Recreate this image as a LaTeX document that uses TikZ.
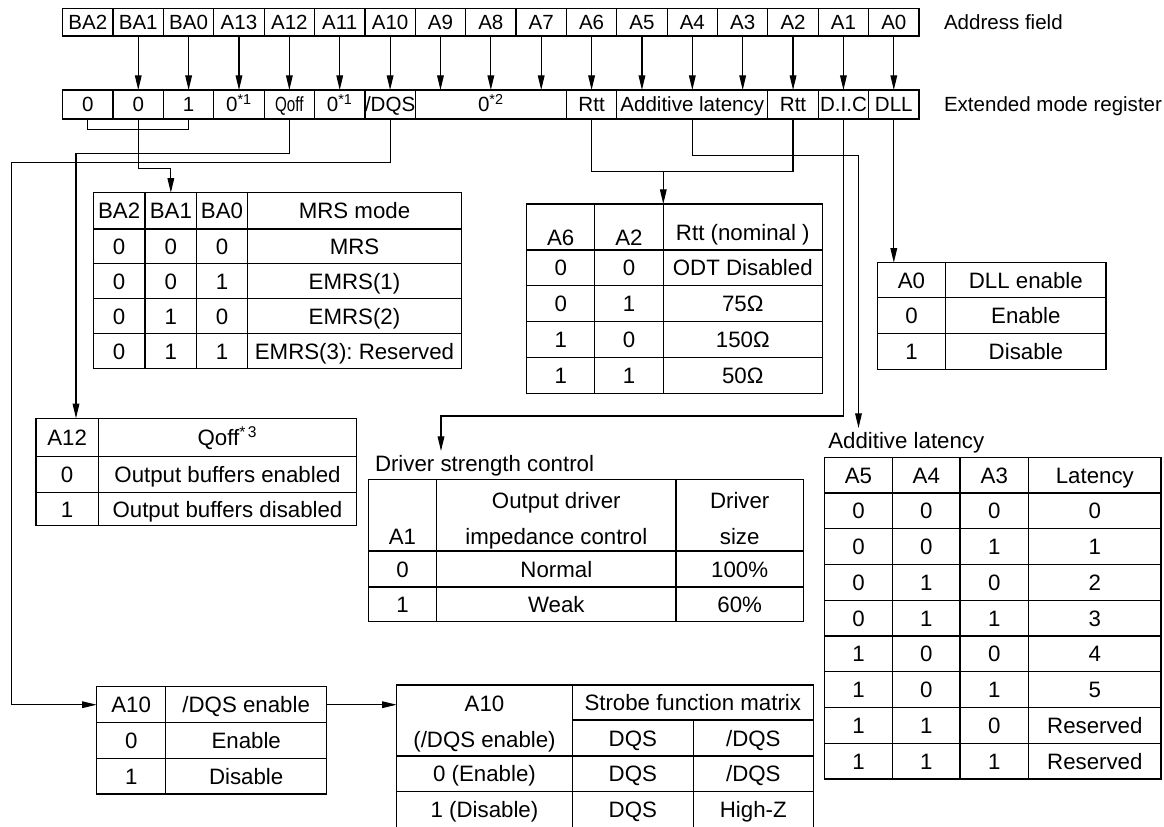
\documentclass[tikz,border=0pt]{standalone}
\usepackage{fontspec}
\setmainfont{Liberation Sans}
\usepackage{graphicx}
\usetikzlibrary{arrows.meta,calc}
\frenchspacing
\newcommand\tblfont{\fontsize{16.7}{20}\selectfont}
\newcommand\topfont{\fontsize{15.4}{18}\selectfont}
\tikzset{
  ln/.style={line width=0.9pt},
  arr/.style={ln,-{Triangle[length=11pt,width=5pt]}},
  cellbox/.style={draw,line width=0.9pt,inner sep=0pt,outer sep=0pt,font=\tblfont,text height=12pt,text depth=0pt,anchor=center},
  topcell/.style={font=\topfont,text height=11pt},
  txt/.style={inner sep=0pt,outer sep=0pt,font=\tblfont,text height=12pt,text depth=0pt},
  lbl/.style={inner sep=0pt,outer sep=0pt,font=\tblfont,text height=12pt,text depth=0pt,anchor=west},
}
\newcommand\cellnode[7][]{%
  \node[cellbox,#1,minimum width={(#5-#3)*0.75pt},minimum height={(#6-#4)*0.75pt}] (#2) at ({(#3+#5)/2},{(#4+#6)/2}) {#7};}
\begin{document}
\begin{tikzpicture}[x=0.75pt,y=-0.75pt]
\useasboundingbox (0,0) rectangle (1164,826);

% ---------- address field ----------
\foreach \t [count=\i from 0] in {BA2,BA1,BA0,A13,A12,A11,A10,A9,A8,A7,A6,A5,A4,A3,A2,A1,A0}{
  \pgfmathsetmacro\xl{62.7+50.37*\i}
  \pgfmathsetmacro\xr{62.7+50.37*(\i+1)}
  \cellnode[topcell]{a\i}{\xl}{8.3}{\xr}{36}{\t}
}
\node[lbl,font=\topfont,text height=11pt] (lAddr) at (944,22.5) {Address field};

% ---------- extended mode register ----------
\cellnode[topcell]{r1}{62.7}{90}{113.07}{119}{0}
\cellnode[topcell]{r2}{113.07}{90}{163.44}{119}{0}
\cellnode[topcell]{r3}{163.44}{90}{213.81}{119}{1}
\cellnode[topcell]{r4}{213.81}{90}{264.18}{119}{0\textsuperscript{*1}}
\cellnode[topcell]{r5}{264.18}{90}{314.55}{119}{\scalebox{0.74}[1]{Qoff}}
\cellnode[topcell]{r6}{314.55}{90}{364.92}{119}{0\textsuperscript{*1}}
\cellnode[topcell]{r7}{364.92}{90}{415.29}{119}{/DQS}
\cellnode[topcell]{r8}{415.29}{90}{566.4}{119}{0\textsuperscript{*2}}
\cellnode[topcell]{r9}{566.4}{90}{616.77}{119}{Rtt}
\cellnode[topcell]{r10}{616.77}{90}{767.88}{119}{Additive latency}
\cellnode[topcell]{r11}{767.88}{90}{818.25}{119}{Rtt}
\cellnode[topcell]{r12}{818.25}{90}{868.62}{119}{D.I.C}
\cellnode[topcell]{r13}{868.62}{90}{918.99}{119}{DLL}
\node[lbl,font=\topfont,text height=11pt] (lExt) at (944,104.5) {Extended mode register};

\foreach \i in {1,...,16}{
  \draw[arr] (a\i.south) -- (a\i.south |- r1.north);
}

% ---------- MRS mode table ----------
\cellnode{mB2}{93.3}{192.7}{145}{229}{BA2}
\cellnode{mB1}{145}{192.7}{196.7}{229}{BA1}
\cellnode{mB0}{196.7}{192.7}{247.3}{229}{BA0}
\cellnode{mM}{247.3}{192.7}{461.7}{229}{MRS mode}
\foreach \a/\b/\c/\d [count=\r] in {0/0/0/MRS,0/0/1/EMRS(1),0/1/0/EMRS(2),0/1/1/{EMRS(3): Reserved}}{
  \pgfmathsetmacro\yt{229+34.86*(\r-1)}
  \pgfmathsetmacro\yb{229+34.86*\r}
  \cellnode{m\r a}{93.3}{\yt}{145}{\yb}{\a}
  \cellnode{m\r b}{145}{\yt}{196.7}{\yb}{\b}
  \cellnode{m\r c}{196.7}{\yt}{247.3}{\yb}{\c}
  \cellnode{m\r d}{247.3}{\yt}{461.7}{\yb}{\d}
}

% ---------- Rtt table ----------
\cellnode{rA6}{526.7}{204}{594.7}{250}{}
\cellnode{rA2}{594.7}{204}{663.3}{250}{}
\cellnode{rRt}{663.3}{204}{822.3}{250}{}
\node[txt] (rA6t) at (560.7,237) {A6};
\node[txt] (rA2t) at (629,237) {A2};
\node[txt] (rRtt) at (742.8,232) {Rtt (nominal )};
\foreach \a/\b/\c [count=\r] in {0/0/ODT Disabled,0/1/75Ω,1/0/150Ω,1/1/50Ω}{
  \pgfmathsetmacro\yt{250+35.83*(\r-1)}
  \pgfmathsetmacro\yb{250+35.83*\r}
  \cellnode{rt\r a}{526.7}{\yt}{594.7}{\yb}{\a}
  \cellnode{rt\r b}{594.7}{\yt}{663.3}{\yb}{\b}
  \cellnode{rt\r c}{663.3}{\yt}{822.3}{\yb}{\c}
}

% ---------- DLL table ----------
\cellnode{dA0}{877.3}{262.7}{945.7}{297.7}{A0}
\cellnode{dDL}{945.7}{262.7}{1106}{297.7}{DLL enable}
\cellnode{d1a}{877.3}{297.7}{945.7}{333.3}{0}
\cellnode{d1b}{945.7}{297.7}{1106}{333.3}{Enable}
\cellnode{d2a}{877.3}{333.3}{945.7}{369.3}{1}
\cellnode{d2b}{945.7}{333.3}{1106}{369.3}{Disable}

% ---------- Qoff table ----------
\cellnode{qA12}{36}{418.3}{98.3}{456.7}{A12}
\cellnode{qQ}{98.3}{418.3}{356.7}{456.7}{Qoff\textsuperscript{*\,3}}
\cellnode{q1a}{36}{456.7}{98.3}{492.3}{0}
\cellnode{q1b}{98.3}{456.7}{356.7}{492.3}{Output buffers enabled}
\cellnode{q2a}{36}{492.3}{98.3}{525.7}{1}
\cellnode{q2b}{98.3}{492.3}{356.7}{525.7}{Output buffers disabled}

% ---------- Driver strength table ----------
\node[lbl] (lDrv) at (375,463) {Driver strength control};
\cellnode{vA1}{368.3}{479.3}{436.7}{551}{}
\cellnode{vO}{436.7}{479.3}{676}{551}{}
\cellnode{vS}{676}{479.3}{803.3}{551}{}
\node[txt] (vA1t) at (402.5,536.7) {A1};
\node[txt] (vOt1) at (556.3,500) {Output driver};
\node[txt] (vOt2) at (556.3,536.7) {impedance control};
\node[txt] (vSt1) at (739.7,500) {Driver};
\node[txt] (vSt2) at (739.7,536.7) {size};
\cellnode{v1a}{368.3}{551}{436.7}{587}{0}
\cellnode{v1b}{436.7}{551}{676}{587}{Normal}
\cellnode{v1c}{676}{551}{803.3}{587}{100\%}
\cellnode{v2a}{368.3}{587}{436.7}{621.7}{1}
\cellnode{v2b}{436.7}{587}{676}{621.7}{Weak}
\cellnode{v2c}{676}{587}{803.3}{621.7}{60\%}

% ---------- Additive latency table ----------
\node[lbl] (lLat) at (828.3,440) {Additive latency};
\cellnode{lA5}{824.3}{457.3}{892.7}{493}{A5}
\cellnode{lA4}{892.7}{457.3}{960}{493}{A4}
\cellnode{lA3}{960}{457.3}{1028.7}{493}{A3}
\cellnode{lL}{1028.7}{457.3}{1161}{493}{Latency}
\foreach \a/\b/\c/\d [count=\r] in {0/0/0/0,0/0/1/1,0/1/0/2,0/1/1/3,1/0/0/4,1/0/1/5,1/1/0/Reserved,1/1/1/Reserved}{
  \pgfmathsetmacro\yt{493+35.75*(\r-1)}
  \pgfmathsetmacro\yb{493+35.75*\r}
  \cellnode{la\r a}{824.3}{\yt}{892.7}{\yb}{\a}
  \cellnode{la\r b}{892.7}{\yt}{960}{\yb}{\b}
  \cellnode{la\r c}{960}{\yt}{1028.7}{\yb}{\c}
  \cellnode{la\r d}{1028.7}{\yt}{1161}{\yb}{\d}
}

% ---------- A10 /DQS enable table ----------
\cellnode{tA10}{96.7}{686.7}{165.7}{722.7}{A10}
\cellnode{tDQ}{165.7}{686.7}{326.7}{722.7}{/DQS enable}
\cellnode{t1a}{96.7}{722.7}{165.7}{758.3}{0}
\cellnode{t1b}{165.7}{722.7}{326.7}{758.3}{Enable}
\cellnode{t2a}{96.7}{758.3}{165.7}{794}{1}
\cellnode{t2b}{165.7}{758.3}{326.7}{794}{Disable}

% ---------- Strobe function matrix ----------
\cellnode{sA10}{396.7}{685}{572.3}{756}{}
\node[txt] (sA10t1) at (484.5,703) {A10};
\node[txt] (sA10t2) at (484.5,739) {(/DQS enable)};
\cellnode{sSF}{572.3}{685}{813.3}{720}{Strobe function matrix}
\cellnode{sD}{572.3}{720}{693.3}{756}{DQS}
\cellnode{sN}{693.3}{720}{813.3}{756}{/DQS}
\cellnode{s1a}{396.7}{756}{572.3}{791.7}{0 (Enable)}
\cellnode{s1b}{572.3}{756}{693.3}{791.7}{DQS}
\cellnode{s1c}{693.3}{756}{813.3}{791.7}{/DQS}
\cellnode{s2a}{396.7}{791.7}{572.3}{828}{1 (Disable)}
\cellnode{s2b}{572.3}{791.7}{693.3}{828}{DQS}
\cellnode{s2c}{693.3}{791.7}{813.3}{828}{High-Z}

% ---------- connectors ----------
\coordinate (yBr) at (0,129.3);
\draw[ln] (r1.south) -- (r1.south |- yBr) -- (r3.south |- yBr) -- (r3.south);
\coordinate (yB1) at (0,168.3);
\draw[arr] (r2.south) -- (r2.south |- yB1) -- (mB1.north |- yB1) -- (mB1.north);
\coordinate (kQ) at (76,153.3);
\draw[arr] (r5.south) |- (kQ) -- (kQ |- qA12.north);
\coordinate (kD) at (11.7,162.3);
\draw[arr] (r7.south) |- (kD) |- (tA10.west);
\draw[arr] (tDQ.east) -- (tDQ.east -| sA10.west);
\coordinate (yR) at (0,171.7);
\draw[ln] (r9.south) -- (r9.south |- yR) -- (r11.south |- yR) -- (r11.south);
\draw[arr] (rA2.north east |- yR) -- (rA2.north east);
\coordinate (yA) at (0,155.7);
\draw[arr] (r10.south) -- (r10.south |- yA) -| ($(lA5.north |- lLat.north)+(0,-4)$);
\coordinate (kC) at (441,416);
\draw[arr] (r12.south) |- (kC) -- ($(kC |- lDrv.north)+(0,-4)$);
\draw[arr] (r13.south) -- (r13.south |- dA0.north);
\end{tikzpicture}
\end{document}
